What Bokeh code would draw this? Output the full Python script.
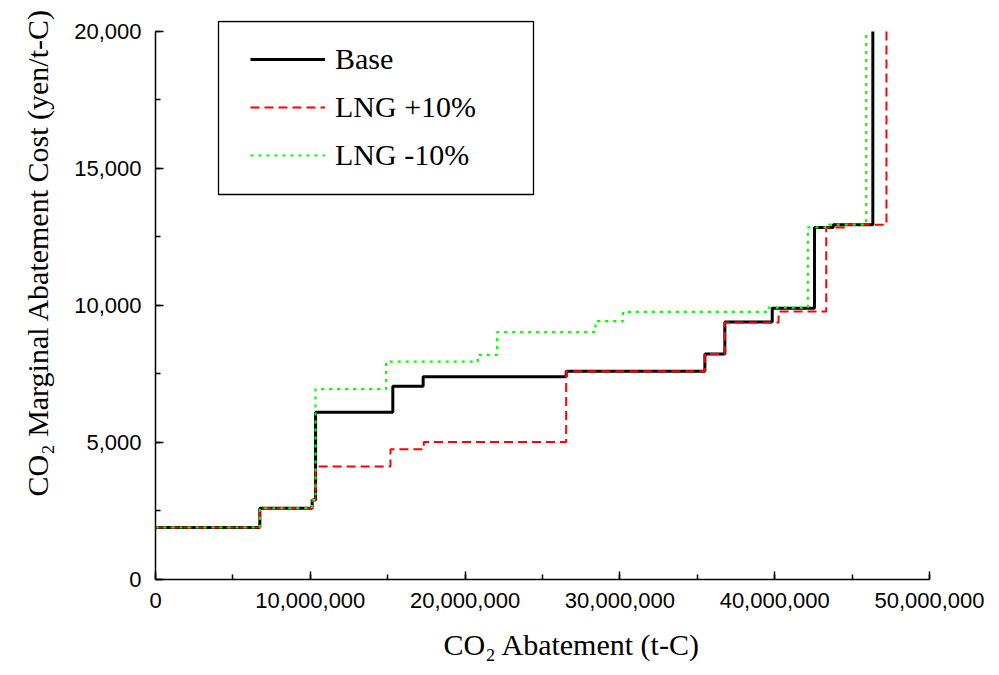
from bokeh.plotting import figure
from bokeh.models import (Range1d, SingleIntervalTicker, NumeralTickFormatter,
                          Legend, LegendItem, BoxAnnotation, Title)
from bokeh.embed import file_html
from bokeh.resources import INLINE

# ---- data (step curves: segment start x, level y; last point = final vertical) ----
base_x = [0, 6.74e6, 10.12e6, 10.34e6, 15.33e6, 17.29e6, 26.53e6, 35.49e6, 36.78e6, 39.84e6, 42.57e6, 43.78e6, 46.34e6]
base_y = [1900, 2600, 2900, 6100, 7050, 7400, 7600, 8230, 9400, 9900, 12850, 12950, 20000]

lng_up_x = [0, 6.74e6, 10.12e6, 10.34e6, 15.18e6, 17.33e6, 26.53e6, 35.49e6, 36.78e6, 40.25e6, 43.33e6, 44.5e6, 47.22e6]
lng_up_y = [1900, 2600, 2900, 4120, 4750, 5020, 7600, 8230, 9380, 9780, 12850, 12950, 20000]

lng_dn_x = [0, 6.74e6, 10.12e6, 10.34e6, 14.9e6, 20.82e6, 22.07e6, 28.42e6, 30.21e6, 39.52e6, 42.14e6, 43.5e6, 45.91e6]
lng_dn_y = [1900, 2600, 2900, 6950, 7950, 8200, 9030, 9430, 9770, 9920, 12850, 12950, 20000]

series_names = ["Base", "LNG +10%", "LNG -10%"]
x_label = "CO\u2082 Abatement (t-C)"
y_label = "CO\u2082 Marginal Abatement Cost (yen/t-C)"

p = figure(width=999, height=675, output_backend="svg", toolbar_location=None,
           x_range=Range1d(0, 50e6), y_range=Range1d(0, 20400),
           min_border_left=155, min_border_right=70, min_border_top=20, min_border_bottom=95)
p.outline_line_color = None
p.xgrid.visible = False
p.ygrid.visible = False
p.background_fill_color = "white"

r_base = p.step(base_x, base_y, mode="after", line_color="black", line_width=3)
r_up = p.step(lng_up_x, lng_up_y, mode="after", line_color="#ff0000", line_width=2, line_dash="9 5")
r_dn = p.step(lng_dn_x, lng_dn_y, mode="after", line_color="#00ff00", line_width=2.2, line_dash="3 5")

for ax, interval in ((p.xaxis[0], 10e6), (p.yaxis[0], 5000)):
    ax.ticker = SingleIntervalTicker(interval=interval, num_minor_ticks=2)
    ax.formatter = NumeralTickFormatter(format="0,0")
    ax.major_tick_in = 8
    ax.major_tick_out = 0
    ax.minor_tick_in = 5
    ax.minor_tick_out = 0
    ax.axis_line_width = 1.5
    ax.major_tick_line_width = 1.5
    ax.minor_tick_line_width = 1.5
    ax.axis_line_color = "black"
    ax.major_tick_line_color = "black"
    ax.minor_tick_line_color = "black"
    ax.major_label_text_font = "Liberation Sans"
    ax.major_label_text_font_size = "22px"
    ax.major_label_text_color = "black"
p.yaxis[0].bounds = (0, 20000)
p.xaxis[0].major_label_standoff = 13
p.yaxis[0].major_label_standoff = 14

p.add_layout(Title(text=x_label, align="left", offset=288, standoff=30,
                   text_font="Liberation Serif", text_font_size="30px",
                   text_font_style="normal", text_color="black"), "below")
p.add_layout(Title(text=y_label, align="left", offset=83, standoff=36,
                   text_font="Liberation Serif", text_font_size="30px",
                   text_font_style="normal", text_color="black"), "left")

box = BoxAnnotation(left=63, right=378, bottom=385, top=558,
                    left_units="screen", right_units="screen", bottom_units="screen", top_units="screen",
                    fill_color="white", fill_alpha=1.0, line_color="black", line_width=1.3, line_alpha=1.0)
p.add_layout(box)

legend = Legend(items=[LegendItem(label=series_names[0], renderers=[r_base]),
                       LegendItem(label=series_names[1], renderers=[r_up]),
                       LegendItem(label=series_names[2], renderers=[r_dn])],
                location=(95, 406), orientation="vertical",
                border_line_alpha=0, background_fill_alpha=0,
                padding=0, margin=0, spacing=12, label_height=36, glyph_height=36, glyph_width=75,
                label_standoff=10, label_text_font="Liberation Serif", label_text_font_size="30px",
                label_text_color="black")
p.add_layout(legend)

open("out.html", "w").write(file_html(p, INLINE))
